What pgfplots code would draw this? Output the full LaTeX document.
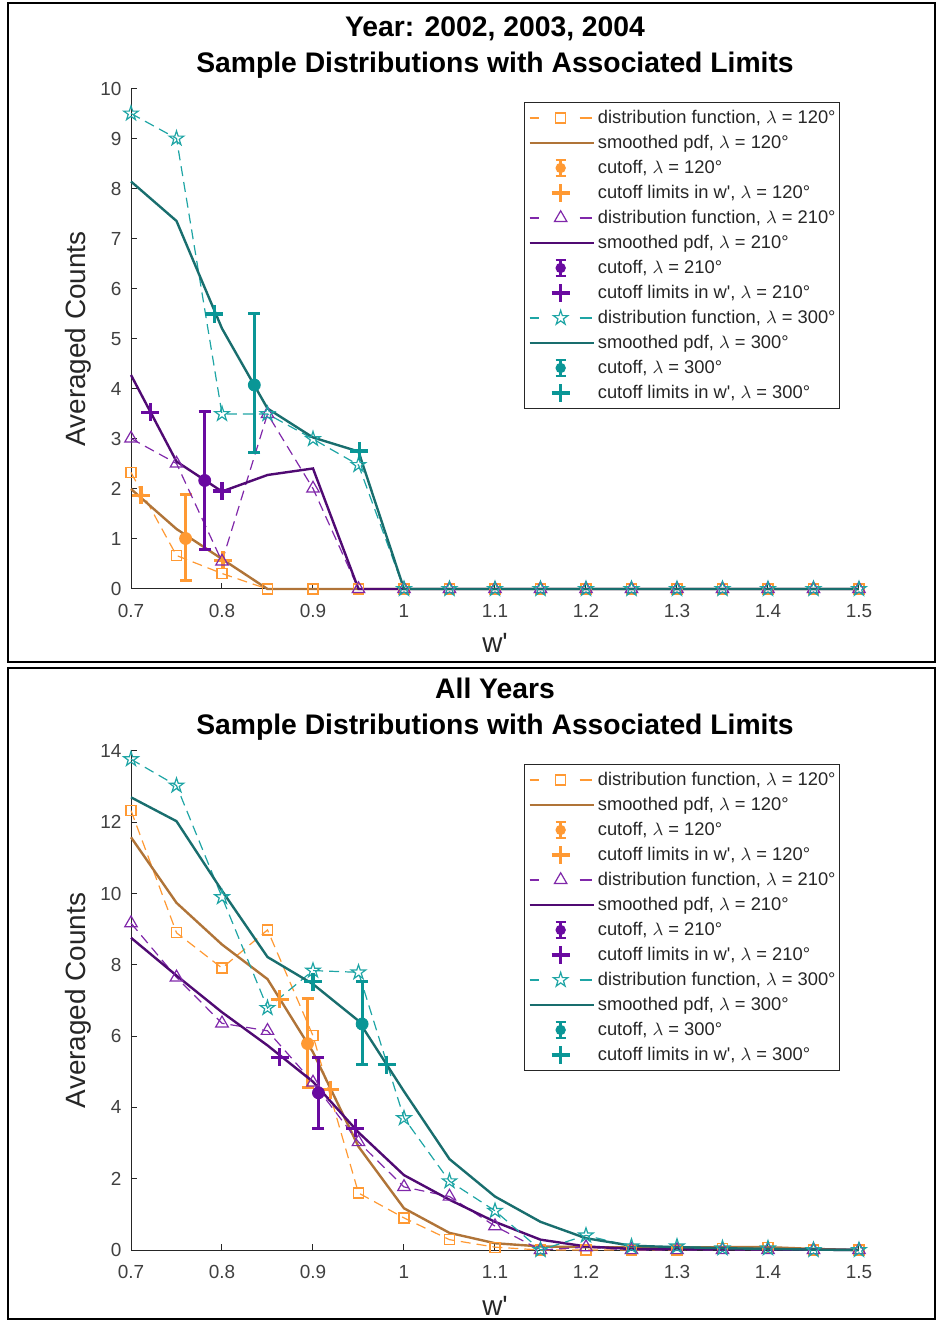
\documentclass[border=0pt]{standalone}
\usepackage{fontspec}
\setmainfont{Liberation Sans}
\usepackage{pgfplots}
\usepackage{pgfplotstable}
\pgfplotsset{compat=1.18}
\usetikzlibrary{plotmarks}

\definecolor{orgD}{RGB}{255,153,51}
\definecolor{orgS}{RGB}{176,116,56}
\definecolor{orgC}{RGB}{255,153,51}
\definecolor{purD}{RGB}{128,40,170}
\definecolor{purS}{RGB}{80,10,115}
\definecolor{purC}{RGB}{105,10,160}
\definecolor{tealD}{RGB}{30,165,165}
\definecolor{tealS}{RGB}{25,110,110}
\definecolor{tealC}{RGB}{10,150,150}

\pgfdeclareplotmark{pentagram}{%
  \pgfpathmoveto{\pgfpointpolar{90}{\pgfplotmarksize}}%
  \pgfpathlineto{\pgfpointpolar{126}{0.382*\pgfplotmarksize}}%
  \pgfpathlineto{\pgfpointpolar{162}{\pgfplotmarksize}}%
  \pgfpathlineto{\pgfpointpolar{198}{0.382*\pgfplotmarksize}}%
  \pgfpathlineto{\pgfpointpolar{234}{\pgfplotmarksize}}%
  \pgfpathlineto{\pgfpointpolar{270}{0.382*\pgfplotmarksize}}%
  \pgfpathlineto{\pgfpointpolar{306}{\pgfplotmarksize}}%
  \pgfpathlineto{\pgfpointpolar{342}{0.382*\pgfplotmarksize}}%
  \pgfpathlineto{\pgfpointpolar{18}{\pgfplotmarksize}}%
  \pgfpathlineto{\pgfpointpolar{54}{0.382*\pgfplotmarksize}}%
  \pgfpathclose\pgfusepathqstroke}

\pgfplotstableread{
x    oD    oS    pD    pS    tD    tS
0.70 2.33  2.00  3.01  4.28  9.51  8.15
0.75 0.67  1.20  2.51  2.55  9.01  7.36
0.80 0.31  0.60  0.55  1.95  3.50  5.21
0.85 0     0     3.50  2.28  3.50  3.61
0.90 0     0     2.01  2.41  3.00  3.03
0.95 0     0     0     0     2.48  2.75
1.00 0     0     0     0     0     0
1.05 0     0     0     0     0     0
1.10 0     0     0     0     0     0
1.15 0     0     0     0     0     0
1.20 0     0     0     0     0     0
1.25 0     0     0     0     0     0
1.30 0     0     0     0     0     0
1.35 0     0     0     0     0     0
1.40 0     0     0     0     0     0
1.45 0     0     0     0     0     0
1.50 0     0     0     0     0     0
}\toptable

\pgfplotstableread{
x    oD    oS    pD    pS    tD    tS
0.70 12.33 11.58 9.17  8.76  13.77 12.70
0.75 8.90  9.74  7.65  7.70  13.03 12.03
0.80 7.91  8.57  6.36  6.67  9.90  10.08
0.85 8.98  7.60  6.15  5.74  6.79  8.22
0.90 6.01  5.55  4.70  4.72  7.84  7.46
0.95 1.60  2.90  3.03  3.30  7.79  6.43
1.00 0.90  1.17  1.77  2.10  3.70  4.45
1.05 0.29  0.48  1.50  1.41  1.93  2.55
1.10 0.08  0.19  0.67  0.79  1.10  1.50
1.15 0     0.10  0     0.29  0     0.79
1.20 0     0.08  0.08  0.10  0.41  0.33
1.25 0     0.07  0     0.03  0.10  0.12
1.30 0     0.07  0     0.02  0.10  0.08
1.35 0.05  0.08  0     0.02  0.05  0.05
1.40 0.08  0.08  0     0.02  0.05  0.03
1.45 0     0.03  0     0.01  0     0.01
1.50 0     0     0     0     0     0
}\bottable

\pgfplotsset{
  panel/.style={
    scale only axis, width=364bp,
    xmin=0.7, xmax=1.5, ymin=0,
    clip=false,
    axis lines*=left, tick align=inside, major tick length=3bp,
    axis line style={black!85, line width=0.5bp},
    every tick/.style={black!85, line width=0.5bp},
    xtick={0.7,0.8,0.9,1,1.1,1.2,1.3,1.4,1.5},
    xticklabels={0.7,0.8,0.9,1,1.1,1.2,1.3,1.4,1.5},
    tick label style={font=\fontsize{9.5}{11}\selectfont, text=black!75},
    xticklabel style={yshift=-4bp},
    yticklabel style={xshift=-1.3bp},
    /pgf/number format/assume math mode=true,
    xlabel={w\textquotesingle}, ylabel={Averaged Counts},
    label style={font=\fontsize{14}{16}\selectfont, text=black!85},
    legend cell align=left,
    legend style={at={(0.974,0.974)}, anchor=north east, draw=black!85,
      line width=0.5bp, font=\fontsize{9.2}{11}\selectfont,
      inner xsep=2bp, inner ysep=1.5bp, row sep=0pt, column sep=1.5bp,
      nodes={inner sep=0pt, text height=9bp, text depth=3.5bp, text=black!85}},
  },
  distleg/.style n args={3}{/pgfplots/legend image code/.code={
      \path[draw=none, fill=none] (0bp,0bp) -- (32bp,0bp);
      \draw[#1, solid, line width=0.6bp] (0bp,0bp) -- (4.5bp,0bp) (25bp,0bp) -- (31bp,0bp);
      \draw[#1, solid, line width=0.6bp] plot[only marks, mark=#2, mark size=#3] coordinates {(15.5bp,0bp)};}},
  smleg/.style={/pgfplots/legend image code/.code={
      \draw[#1, solid, line width=1.2bp] (0bp,0bp) -- (32bp,0bp);}},
  cutleg/.style={/pgfplots/legend image code/.code={
      \path[draw=none, fill=none] (0bp,0bp) -- (32bp,0bp);
      \draw[#1, solid, line width=1.4bp] (15.5bp,-4bp) -- (15.5bp,4bp)
        (13bp,4bp) -- (18bp,4bp) (13bp,-4bp) -- (18bp,-4bp);
      \fill[#1, draw=none] (15.5bp,0bp) circle (2.6bp);}},
  plusleg/.style={/pgfplots/legend image code/.code={
      \path[draw=none, fill=none] (0bp,0bp) -- (32bp,0bp);
      \draw[#1, solid, line width=1.6bp] (11bp,0bp) -- (20bp,0bp) (15.5bp,-4.5bp) -- (15.5bp,4.5bp);}},
  dist/.style={color=#1, line width=0.6bp, dash pattern=on 5bp off 3bp,
      mark options={solid, line width=0.6bp}},
  smooth pdf/.style={color=#1, line width=1.2bp, no marks},
  cut/.style={color=#1, only marks, mark=*, mark size=3bp,
      error bars/.cd, y dir=both, y explicit,
      error bar style={line width=1.5bp, solid},
      error mark options={rotate=90, mark size=3bp, line width=1.5bp}},
  lim/.style={color=#1, only marks, mark=+, mark size=4.5bp, line width=1.6bp,
      mark options={line width=1.6bp}},
}

\begin{document}
\begin{tikzpicture}
\useasboundingbox (0bp,0bp) rectangle (468.5bp,660bp);

% ---------------- top panel ----------------
\begin{axis}[panel, height=250bp, ymax=10, ytick={0,1,...,10},
  at={(65.5bp,365.5bp)}, anchor=south west,
  xlabel style={at={(axis description cs:0.5,-0.108)}, anchor=center},
  ylabel style={at={(axis description cs:-0.0728,0.5)}, anchor=center}]
\addplot[dist=orgD, mark=square, mark size=2.5bp, distleg={orgD}{square}{2.5bp}] table[x=x,y=oD]{\toptable};
\addlegendentry{distribution function, $\lambda$ = 120°}
\addplot[smooth pdf=orgS, smleg=orgS] table[x=x,y=oS]{\toptable};
\addlegendentry{smoothed pdf, $\lambda$ = 120°}
\addplot[cutleg=orgC, cut=orgC] coordinates {(0.760,1.01) += (0,0.87) -= (0,0.84)};
\addlegendentry{cutoff, $\lambda$ = 120°}
\addplot[plusleg=orgC, lim=orgC] coordinates {(0.711,1.87) (0.801,0.57)};
\addlegendentry{cutoff limits in w\textquotesingle, $\lambda$ = 120°}
\addplot[dist=purD, mark=triangle, mark size=3.6bp, distleg={purD}{triangle}{3.6bp}] table[x=x,y=pD]{\toptable};
\addlegendentry{distribution function, $\lambda$ = 210°}
\addplot[smooth pdf=purS, smleg=purS] table[x=x,y=pS]{\toptable};
\addlegendentry{smoothed pdf, $\lambda$ = 210°}
\addplot[cutleg=purC, cut=purC] coordinates {(0.781,2.17) += (0,1.37) -= (0,1.39)};
\addlegendentry{cutoff, $\lambda$ = 210°}
\addplot[plusleg=purC, lim=purC] coordinates {(0.721,3.53) (0.800,1.96)};
\addlegendentry{cutoff limits in w\textquotesingle, $\lambda$ = 210°}
\addplot[dist=tealD, mark=pentagram, mark size=3.8bp, distleg={tealD}{pentagram}{3.8bp}] table[x=x,y=tD]{\toptable};
\addlegendentry{distribution function, $\lambda$ = 300°}
\addplot[smooth pdf=tealS, smleg=tealS] table[x=x,y=tS]{\toptable};
\addlegendentry{smoothed pdf, $\lambda$ = 300°}
\addplot[cutleg=tealC, cut=tealC] coordinates {(0.8355,4.08) += (0,1.42) -= (0,1.36)};
\addlegendentry{cutoff, $\lambda$ = 300°}
\addplot[plusleg=tealC, lim=tealC] coordinates {(0.7915,5.50) (0.951,2.76)};
\addlegendentry{cutoff limits in w\textquotesingle, $\lambda$ = 300°}
\end{axis}

% ---------------- bottom panel ----------------
\begin{axis}[panel, height=249.5bp, ymax=14, ytick={0,2,...,14},
  at={(65.5bp,35bp)}, anchor=south west,
  xlabel style={at={(axis description cs:0.5,-0.112)}, anchor=center},
  ylabel style={at={(axis description cs:-0.0728,0.5)}, anchor=center}]
\addplot[dist=orgD, mark=square, mark size=2.5bp, distleg={orgD}{square}{2.5bp}] table[x=x,y=oD]{\bottable};
\addlegendentry{distribution function, $\lambda$ = 120°}
\addplot[smooth pdf=orgS, smleg=orgS] table[x=x,y=oS]{\bottable};
\addlegendentry{smoothed pdf, $\lambda$ = 120°}
\addplot[cutleg=orgC, cut=orgC] coordinates {(0.894,5.79) += (0,1.26) -= (0,1.24)};
\addlegendentry{cutoff, $\lambda$ = 120°}
\addplot[plusleg=orgC, lim=orgC] coordinates {(0.8635,7.03) (0.919,4.50)};
\addlegendentry{cutoff limits in w\textquotesingle, $\lambda$ = 120°}
\addplot[dist=purD, mark=triangle, mark size=3.6bp, distleg={purD}{triangle}{3.6bp}] table[x=x,y=pD]{\bottable};
\addlegendentry{distribution function, $\lambda$ = 210°}
\addplot[smooth pdf=purS, smleg=purS] table[x=x,y=pS]{\bottable};
\addlegendentry{smoothed pdf, $\lambda$ = 210°}
\addplot[cutleg=purC, cut=purC] coordinates {(0.906,4.41) += (0,1.00) -= (0,1.00)};
\addlegendentry{cutoff, $\lambda$ = 210°}
\addplot[plusleg=purC, lim=purC] coordinates {(0.8635,5.41) (0.9465,3.41)};
\addlegendentry{cutoff limits in w\textquotesingle, $\lambda$ = 210°}
\addplot[dist=tealD, mark=pentagram, mark size=3.8bp, distleg={tealD}{pentagram}{3.8bp}] table[x=x,y=tD]{\bottable};
\addlegendentry{distribution function, $\lambda$ = 300°}
\addplot[smooth pdf=tealS, smleg=tealS] table[x=x,y=tS]{\bottable};
\addlegendentry{smoothed pdf, $\lambda$ = 300°}
\addplot[cutleg=tealC, cut=tealC] coordinates {(0.954,6.34) += (0,1.19) -= (0,1.14)};
\addlegendentry{cutoff, $\lambda$ = 300°}
\addplot[plusleg=tealC, lim=tealC] coordinates {(0.900,7.53) (0.981,5.20)};
\addlegendentry{cutoff limits in w\textquotesingle, $\lambda$ = 300°}
\end{axis}

% titles
\node[anchor=base, font=\bfseries\fontsize{14.2}{17}\selectfont] at (247.5bp,641.5bp) {Year: 2002, 2003, 2004};
\node[anchor=base, font=\bfseries\fontsize{14.2}{17}\selectfont] at (247.5bp,623.5bp) {Sample Distributions with Associated Limits};
\node[anchor=base, font=\bfseries\fontsize{14.2}{17}\selectfont] at (247.5bp,310.5bp) {All Years};
\node[anchor=base, font=\bfseries\fontsize{14.2}{17}\selectfont] at (247.5bp,292.5bp) {Sample Distributions with Associated Limits};

% panel frames
\draw[line width=1bp] (4bp,329bp) rectangle (467.7bp,658.7bp);
\draw[line width=1bp] (4bp,0.6bp) rectangle (467.7bp,326bp);
\end{tikzpicture}
\end{document}
